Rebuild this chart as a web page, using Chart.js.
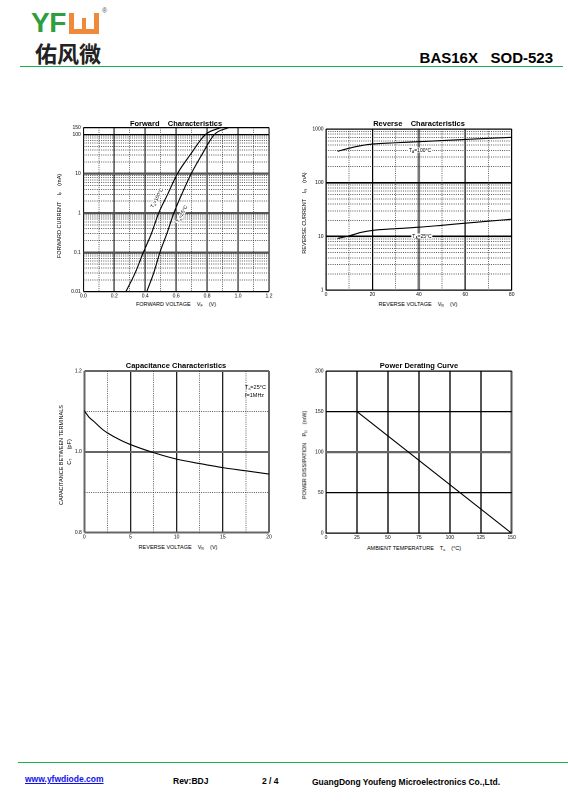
<!DOCTYPE html>
<html>
<head>
<meta charset="utf-8">
<script src="https://cdn.jsdelivr.net/npm/chart.js@4.4.1/dist/chart.umd.min.js"></script>
<style>
html, body { margin: 0; padding: 0; background: #fff; }
body { width: 568px; height: 805px; position: relative; overflow: hidden; font-family: "Liberation Sans", Arial, sans-serif; color: #000; }
.t { position: absolute; white-space: pre; transform: translate(-50%, -50%); line-height: 1; }
.ax { font-size: 5.5px; }
.ttl { font-size: 7.5px; font-weight: bold; }
.rot { transform: translate(-50%, -50%) rotate(-90deg); }
.note { font-size: 5px; background: #fff; padding: 0 1px; }
sub { font-size: 65%; vertical-align: -1.2px; line-height: 0; }
canvas { position: absolute; }
.foot { position: absolute; font-size: 8.5px; font-weight: bold; line-height: 1; white-space: pre; }
</style>
</head>
<body>

<!-- header -->
<div style="position:absolute;left:31px;top:9px;font:bold 28px 'Liberation Sans',Arial;color:#2e9e3e;line-height:1;letter-spacing:-0.5px">YF</div>
<div style="position:absolute;left:69px;top:13px;width:30px;height:21px;background:#ef8a3a">
  <div style="position:absolute;left:5px;top:0;width:20px;height:16px;background:#fff"></div>
  <div style="position:absolute;left:13px;top:5px;width:4px;height:11px;background:#ef8a3a"></div>
</div>
<div style="position:absolute;left:102px;top:7px;font-size:7px;color:#555;line-height:1">®</div>
<div style="position:absolute;left:35px;top:41px;font:bold 22px 'Noto Sans CJK SC';line-height:1;color:#222">佑风微</div>
<div style="position:absolute;right:15px;top:50px;font:bold 15px 'Liberation Sans',Arial;line-height:1;white-space:pre">BAS16X   SOD-523</div>
<div style="position:absolute;left:20px;top:65.5px;width:543px;height:1.5px;background:#17b04a"></div>

<!-- charts -->
<canvas id="fwd" width="220" height="183" style="left:55px;top:118px"></canvas>
<canvas id="rev" width="221" height="183" style="left:297px;top:118px"></canvas>
<canvas id="cap" width="220" height="184" style="left:55px;top:360px"></canvas>
<canvas id="pow" width="221" height="184" style="left:297px;top:360px"></canvas>

<!-- chart texts -->
<div class="t ttl" style="left:176px;top:124px">Forward    Characteristics</div>
<div class="t ax" style="left:176px;top:304.5px">FORWARD VOLTAGE    V<sub>F</sub>    (V)</div>
<div class="t ax rot" style="left:59.5px;top:216px">FORWARD CURRENT    I<sub>F</sub>    (mA)</div>
<div class="t note" style="left:157px;top:198px;transform:translate(-50%,-50%) rotate(-62deg)">T<sub>a</sub>=100°C</div>
<div class="t note" style="left:182px;top:214px;transform:translate(-50%,-50%) rotate(-62deg)">T<sub>a</sub>=25°C</div>

<div class="t ttl" style="left:419px;top:124px">Reverse    Characteristics</div>
<div class="t ax" style="left:418px;top:305px">REVERSE VOLTAGE    V<sub>R</sub>    (V)</div>
<div class="t ax rot" style="left:305px;top:213px">REVERSE CURRENT    I<sub>R</sub>    (nA)</div>
<div class="t note" style="left:420px;top:149.5px">T<sub>A</sub>=100°C</div>
<div class="t note" style="left:422px;top:235.5px">T<sub>A</sub>=25°C</div>

<div class="t ttl" style="left:176px;top:366px">Capacitance Characteristics</div>
<div class="t ax" style="left:178px;top:547.5px">REVERSE VOLTAGE    V<sub>R</sub>    (V)</div>
<div class="t ax rot" style="left:61.5px;top:455px">CAPACITANCE BETWEEN TERMINALS</div>
<div class="t ax rot" style="left:69.5px;top:452px">C<sub>T</sub>      (pF)</div>
<div class="t ax" style="left:245px;top:388px;transform:translate(0,-50%)">T<sub>a</sub>=25°C</div>
<div class="t ax" style="left:245px;top:395.5px;transform:translate(0,-50%)">f=1MHz</div>

<div class="t ttl" style="left:419px;top:366px">Power Derating Curve</div>
<div class="t ax" style="left:414px;top:549px">AMBIENT TEMPERATURE    T<sub>a</sub>    (°C)</div>
<div class="t ax rot" style="left:304.5px;top:455px">POWER DISSIPATION    P<sub>D</sub>    (mW)</div>

<!-- footer -->
<div style="position:absolute;left:18px;top:761.5px;width:550px;height:1.5px;background:#17b04a"></div>
<div class="foot" style="left:25px;top:774.5px;color:#1010ee;text-decoration:underline">www.yfwdiode.com</div>
<div class="foot" style="left:173px;top:777px">Rev:BDJ</div>
<div class="foot" style="left:262px;top:777px">2 / 4</div>
<div class="foot" style="left:312px;top:777.5px">GuangDong Youfeng Microelectronics Co.,Ltd.</div>

<script>
// ---- data ----

// forward characteristics: current (mA) vs forward voltage (V)
const fwdCurrent = [0.01, 0.03, 0.1, 0.3, 1, 3, 10, 30, 100, 150];
const fwdV100 = [0.275, 0.335, 0.388, 0.44, 0.487, 0.545, 0.608, 0.69, 0.79, 0.89];
const fwdV25 = [0.41, 0.455, 0.495, 0.54, 0.585, 0.636, 0.697, 0.765, 0.848, 0.94];
const fwdXTicks = [0, 0.2, 0.4, 0.6, 0.8, 1.0, 1.2];
const fwdXLabels = ["0.0", "0.2", "0.4", "0.6", "0.8", "1.0", "1.2"];
const fwdYTicks = [0.01, 0.1, 1, 10, 100, 150];
const fwdYLabels = ["0.01", "0.1", "1", "10", "100", "150"];

// reverse characteristics: current (nA) vs reverse voltage (V)
const revVoltage = [5, 10, 15, 20, 30, 40, 50, 60, 70, 80];
const revI100 = [385, 440, 490, 525, 555, 580, 610, 640, 670, 700];
const revI25 = [9.2, 10.3, 11.9, 13.0, 14.0, 14.9, 16.2, 17.7, 19.3, 21];
const revXTicks = [0, 20, 40, 60, 80];
const revXLabels = ["0", "20", "40", "60", "80"];
const revYTicks = [1, 10, 100, 1000];
const revYLabels = ["1", "10", "100", "1000"];

// capacitance: pF vs reverse voltage
const capVoltage = [0, 0.5, 1, 2, 2.5, 4, 5, 7.5, 10, 12.5, 15, 17.5, 20];
const capPF = [1.102, 1.086, 1.076, 1.055, 1.047, 1.028, 1.018, 0.998, 0.982, 0.971, 0.961, 0.953, 0.945];
const capXTicks = [0, 5, 10, 15, 20];
const capXLabels = ["0", "5", "10", "15", "20"];
const capYTicks = [0.8, 1.0, 1.2];
const capYLabels = ["0.8", "1.0", "1.2"];

// power derating: mW vs ambient temperature
const powTemp = [25, 150];
const powMW = [150, 0];
const powXTicks = [0, 25, 50, 75, 100, 125, 150];
const powXLabels = ["0", "25", "50", "75", "100", "125", "150"];
const powYTicks = [0, 50, 100, 150, 200];
const powYLabels = ["0", "50", "100", "150", "200"];

// ---- helpers ----
const tickFont = { family: "Liberation Sans", size: 5 };

function minorLog(from, to) {
    const out = [];
    for (let d = from; d < to; d *= 10) {
        for (let k = 2; k <= 9; k++) out.push(+(k * d).toPrecision(3));
    }
    return out;
}

function axis(o) {
    const style = v => o.style ? o.style(v) : ["#222", 0.7];
    return {
        type: o.type || "linear",
        position: o.isX ? "bottom" : "left",
        min: o.min,
        max: o.max,
        afterBuildTicks: s => { s.ticks = o.ticks.map(v => ({ value: v })); },
        afterFit: s => { if (o.isX) s.height = o.size; else s.width = o.size; },
        ticks: {
            display: !!o.labels,
            autoSkip: false,
            maxRotation: 0,
            padding: o.isX ? 1.5 : 2.5,
            font: tickFont,
            color: "#000",
            callback: (v, i) => o.labels ? o.labels[i] : ""
        },
        grid: {
            drawTicks: false,
            color: c => style(c.tick ? c.tick.value : NaN)[0],
            lineWidth: c => style(c.tick ? c.tick.value : NaN)[1]
        },
        border: { display: false, dash: o.dash || [] }
    };
}

function line(xs, ys) {
    return {
        data: xs.map((x, i) => ({ x: x, y: ys[i] })),
        borderColor: "#000",
        borderWidth: 1.1,
        pointRadius: 0,
        cubicInterpolationMode: "monotone",
        xAxisID: "x",
        yAxisID: "y"
    };
}

function draw(id, datasets, scales, pad) {
    new Chart(document.getElementById(id), {
        type: "line",
        data: { datasets: datasets },
        options: {
            responsive: false,
            animation: false,
            devicePixelRatio: 2,
            layout: { padding: { top: pad[0], right: pad[1], left: 0, bottom: 0 } },
            plugins: { legend: { display: false }, tooltip: { enabled: false } },
            scales: scales
        }
    });
}

const dots = [1, 1.2];

// forward
draw("fwd", [line(fwdV100, fwdCurrent), line(fwdV25, fwdCurrent)], {
    x: axis({ isX: true, min: 0, max: 1.2, ticks: fwdXTicks, labels: fwdXLabels, size: 9.3,
        style: v => ["#111", 1.1] }),
    y: axis({ type: "logarithmic", min: 0.01, max: 150, ticks: fwdYTicks, labels: fwdYLabels, size: 28.3,
        style: v => (v === 0.1 || v === 1 || v === 10) ? ["#555", 2.2] : ["#000", 1.3] }),
    xd: axis({ isX: true, min: 0, max: 1.2, ticks: [0.1, 0.3, 0.5, 0.7, 0.9, 1.1], size: 0, dash: dots }),
    yd: axis({ type: "logarithmic", min: 0.01, max: 150, ticks: minorLog(0.01, 100), size: 0, dash: dots })
}, [9.5, 6]);

// reverse
draw("rev", [line(revVoltage, revI100), line(revVoltage, revI25)], {
    x: axis({ isX: true, min: 0, max: 80, ticks: revXTicks, labels: revXLabels, size: 10.7,
        style: v => v === 40 ? ["#777", 2.6] : ["#000", 1.2] }),
    y: axis({ type: "logarithmic", min: 1, max: 1000, ticks: revYTicks, labels: revYLabels, size: 29,
        style: v => (v === 10 || v === 100) ? ["#000", 1.6] : ["#000", 1.3] }),
    xd: axis({ isX: true, min: 0, max: 80, ticks: [10, 30, 50, 70], size: 0, dash: dots }),
    yd: axis({ type: "logarithmic", min: 1, max: 1000, ticks: minorLog(1, 1000), size: 0, dash: dots })
}, [11, 6.3]);

// capacitance
draw("cap", [line(capVoltage, capPF)], {
    x: axis({ isX: true, min: 0, max: 20, ticks: capXTicks, labels: capXLabels, size: 11.3,
        style: v => (v === 0 || v === 20) ? ["#666", 2] : ["#222", 1.3] }),
    y: axis({ min: 0.8, max: 1.2, ticks: capYTicks, labels: capYLabels, size: 29.3,
        style: v => ["#666", 2] }),
    xd: axis({ isX: true, min: 0, max: 20, ticks: [2.5, 7.5, 12.5, 17.5], size: 0, dash: dots }),
    yd: axis({ min: 0.8, max: 1.2, ticks: [0.9, 1.1], size: 0, dash: dots })
}, [11, 6]);

// power derating
draw("pow", [line(powTemp, powMW)], {
    x: axis({ isX: true, min: 0, max: 150, ticks: powXTicks, labels: powXLabels, size: 10.7,
        style: v => v === 0 ? ["#000", 1.2] : ["#555", 2] }),
    y: axis({ min: 0, max: 200, ticks: powYTicks, labels: powYLabels, size: 29,
        style: v => v === 100 ? ["#666", 2.2] : ["#000", 1.3] })
}, [11, 6.3]);
</script>
</body>
</html>
